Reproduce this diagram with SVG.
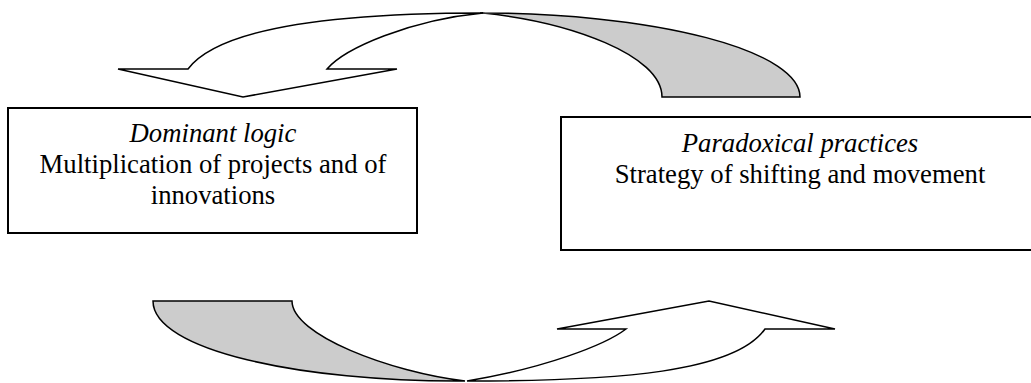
<svg xmlns="http://www.w3.org/2000/svg" width="1031" height="383" viewBox="0 0 1031 383">
<style>
.box{fill:#ffffff;stroke:#000000;stroke-width:2}
.t{font-size:26.7px;fill:#000000;text-anchor:middle}
.i{font-style:italic}
.back{fill:#cccccc;stroke:#000000;stroke-width:1.5;stroke-linejoin:miter}
.front{fill:#ffffff;stroke:#000000;stroke-width:1.5;stroke-linejoin:miter}
</style>
<rect width="1031" height="383" fill="#ffffff"/>
<g id="connectors">
<g id="arrow-top">
<path class="back" d="M 483,13 C 570,22 662,55 662,97 L 800,97 A 320 84 0 0 0 480,13 Z"/>
<path class="front" d="M 483,13 C 410,20 345,48 327,69 L 397,69 L 243,97 L 118,69 L 188,69 C 225,20 380,13 483,13 Z"/>
</g>
<g id="arrow-bottom">
<path class="back" d="M 153,301 L 292,301 C 292,335 390,372 465,381 C 300,382 153,350 153,301 Z"/>
<path class="front" d="M 467,381 C 545,368 605,345 626,329 L 557,329 L 709,301 L 835,329 L 765,329 C 735,372 620,381 467,381 Z"/>
</g>
</g>
<g id="node-dominant" font-family="'Liberation Serif', 'DejaVu Serif', serif">
<rect class="box" x="8" y="108" width="409" height="125"/>
<text class="t i" x="213" y="142">Dominant logic</text>
<text class="t" x="213" y="173">Multiplication of projects and of</text>
<text class="t" x="213" y="204">innovations</text>
</g>
<g id="node-paradoxical" font-family="'Liberation Serif', 'DejaVu Serif', serif">
<rect class="box" x="561" y="117" width="480" height="133"/>
<text class="t i" x="800" y="152">Paradoxical practices</text>
<text class="t" x="800" y="183">Strategy of shifting and movement</text>
</g>
</svg>
